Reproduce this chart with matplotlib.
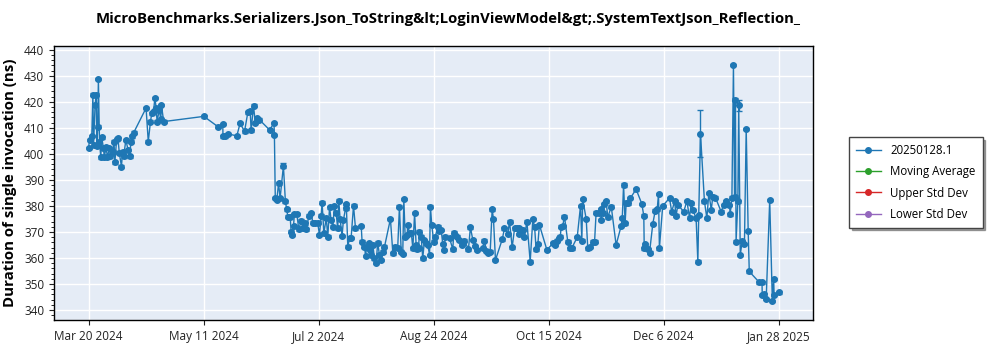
import numpy as np
import matplotlib
matplotlib.use("Agg")
import matplotlib.pyplot as plt
import matplotlib.dates as mdates
from matplotlib.lines import Line2D
from matplotlib.ticker import MultipleLocator

plt.rcParams["font.family"] = ["Open Sans", "DejaVu Sans"]

TITLE = "MicroBenchmarks.Serializers.Json_ToString&lt;LoginViewModel&gt;.SystemTextJson_Reflection_"
SERIES = "20250128.1"
START = np.datetime64("2024-03-20T00:00")

# days since the first run, and mean duration (ns)
days = [
    0.0, 0.5, 1.5, 2.0, 2.3, 3.0, 3.5, 3.8, 4.2, 4.5, 5.0, 5.6, 6.0, 6.8, 7.2, 8.0, 8.6, 9.5,
    10.0, 11.0, 11.6, 12.0, 12.8, 13.4, 14.0, 15.0, 15.5, 16.0, 17.0, 18.0, 18.8, 19.3, 20.0, 20.6,
    26.2, 27.2, 28.2, 28.8, 29.6, 30.2, 30.8, 31.2, 32.2, 32.9, 33.2, 34.2,
    52.5, 58.8, 61.1, 61.2, 61.9, 63.4, 67.5, 69.0, 71.0, 72.5, 73.6, 74.0, 75.1, 75.9, 76.6, 77.8,
    82.4, 84.4, 84.6, 85.0, 85.7, 86.5, 87.2, 88.7, 89.6, 90.2, 90.7, 91.8, 92.2, 92.7, 93.3, 93.7,
    94.8, 95.7, 96.8, 97.5, 98.3, 99.1, 100.3, 101.3, 102.1, 103.3, 104.3, 105.1, 105.9, 106.3,
    107.1, 108.2, 108.9, 109.7, 110.4, 111.2, 111.9, 112.7, 113.4, 113.9, 114.5, 115.4, 116.0,
    117.0, 117.3, 118.0, 118.8, 119.5, 120.6, 121.5, 124.1, 124.5, 125.6, 126.1, 126.6, 127.5,
    128.2, 128.6, 129.4, 130.1, 130.9, 131.6, 132.4, 133.2, 133.9, 134.7, 137.4, 138.5, 139.6,
    140.7, 141.5, 142.3, 143.0, 143.5, 144.1, 145.0, 145.3, 146.1, 146.9, 147.6, 148.4, 149.1,
    149.6, 150.2, 150.6, 151.4, 152.1, 152.9, 153.7, 154.4, 155.2, 155.6, 156.2, 157.1, 157.8,
    159.0, 159.7, 160.5, 161.2, 162.0, 162.3, 164.3, 165.8, 166.2, 166.9, 167.8, 168.8, 169.9,
    171.1, 172.9, 173.8, 174.9, 176.1, 176.7, 179.4, 180.2, 181.0, 181.7, 182.8, 183.7, 184.3,
    185.2, 188.3, 189.3, 190.8, 191.6, 192.8, 193.9, 194.9, 195.8, 196.1, 196.9, 197.6, 198.4,
    199.5, 201.0, 202.2, 203.0, 203.7, 204.5, 205.2, 208.6, 211.3, 212.5, 213.1, 214.0, 214.7,
    215.1, 215.8, 216.6, 218.1, 219.3, 219.9, 222.4, 223.9, 224.5, 224.9, 226.5, 227.2, 228.4,
    229.5, 230.3, 231.0, 232.1, 233.0, 233.3, 234.0, 234.8, 235.6, 236.3, 237.9, 240.1, 242.4,
    242.9, 243.5, 244.2, 244.7, 245.4, 246.6, 249.2, 251.8, 252.7, 252.9, 253.3, 254.5, 255.3,
    256.8, 257.9, 258.8, 259.4, 259.8, 261.3, 264.4, 265.4, 266.7, 267.4, 268.2, 270.9, 272.3,
    273.5, 274.3, 275.0, 276.5, 277.3, 277.7, 278.5, 280.3, 281.4, 282.3, 283.4, 284.1, 285.3,
    287.9, 289.0, 290.2, 291.7, 292.0, 292.8, 293.5, 294.0, 294.4, 294.7, 295.5, 295.9, 296.6,
    297.5, 298.5, 299.3, 300.2, 300.7, 305.3, 306.5, 306.6, 307.3, 308.4, 310.0, 311.2, 311.8,
    312.0, 314.0,
]
durations = [
    402.2, 405.4, 406.9, 422.7, 403.5, 418.8, 422.7, 403.1, 410.5, 428.7, 404.7, 398.7, 406.4,
    402.2, 398.7, 402.6, 398.7, 402.2, 399.0, 400.9, 404.7, 396.7, 405.6, 406.0, 400.5, 395.1,
    400.9, 399.0, 405.4, 401.5, 399.0, 404.7, 406.7, 408.2,
    417.6, 404.7, 412.4, 415.6, 416.3, 421.4, 417.6, 412.4, 416.9, 413.3, 418.8, 412.4,
    414.4, 410.5, 411.4, 406.7, 406.7, 407.7, 406.9, 411.8, 408.6, 415.9, 416.3, 409.0, 418.5,
    411.8, 413.7, 413.1,
    409.2, 411.8, 407.3, 383.0, 382.3, 388.7, 383.0, 395.4, 381.7, 378.7, 375.9, 375.6, 370.1,
    368.8, 372.3, 376.9, 376.9, 371.0, 374.3, 371.4, 373.3, 371.0, 376.2, 377.2, 373.6, 373.6,
    373.6, 368.8, 376.2, 381.3, 369.5, 375.3, 368.2, 379.5, 374.6, 372.0, 380.0, 377.2, 371.4,
    382.0, 374.9, 368.5, 374.6, 379.1, 380.8, 364.3, 367.6, 367.6, 380.1, 371.4, 372.3, 366.3,
    364.3, 360.8, 364.3, 365.6, 363.1, 361.2, 365.0, 359.9, 358.0, 365.9, 361.2, 359.2, 362.4,
    364.3, 375.0, 361.8, 364.3, 363.7, 379.7, 362.4, 361.5, 382.6, 368.0, 368.8, 372.7, 369.5,
    369.7, 363.7, 377.2, 365.0, 363.3, 363.7, 370.1, 368.2, 359.9, 366.9, 365.6, 365.0, 361.2,
    379.7, 372.7, 366.3, 368.2, 372.0, 370.5, 370.8, 365.4, 363.1, 368.2, 367.6, 363.3, 369.7,
    368.8, 368.2, 366.9, 365.0, 366.7, 363.3, 371.8, 366.9, 364.6, 363.1, 363.7, 366.7, 362.8,
    362.0, 362.4, 378.7, 374.9, 359.2, 367.2, 371.4, 369.2, 374.0, 364.1, 371.4, 371.4, 371.4,
    369.2, 370.8, 370.8, 368.0, 374.0, 358.6, 374.9, 372.0, 363.3, 365.4, 372.7, 363.1, 365.6,
    365.0, 366.7, 367.6, 368.2, 372.0, 372.3, 375.9, 366.3, 363.7, 363.7, 368.0, 380.0, 366.7,
    382.6, 374.9, 363.7, 364.3, 366.3, 366.3, 377.4, 377.4, 378.7, 374.6, 377.4, 380.8, 381.7,
    375.6, 379.7, 365.0, 372.3, 375.3, 388.1, 373.3, 381.3, 381.0, 383.0, 386.4, 380.8, 376.2,
    363.7, 365.4, 363.3, 362.0, 373.1, 378.2, 378.7, 384.6, 363.7, 380.0, 383.0, 377.8, 381.7,
    376.2, 380.4, 377.8, 381.9, 375.5, 381.0, 378.5, 375.3, 358.6, 376.5, 407.7, 381.7, 375.3,
    384.9, 378.5, 383.6, 383.2, 377.8, 380.4, 381.7, 380.4, 376.8, 383.2, 434.2, 383.6, 420.8,
    366.3, 381.7, 418.6, 361.2, 366.5, 365.3, 409.6, 370.4, 354.8, 350.6, 350.6, 345.8, 346.0,
    344.2, 382.2, 343.5, 351.9, 345.8, 346.8,
]
# std dev per run; runs not listed here are tight
wide_std = {88.7: 1.0, 243.5: 0.8, 278.5: 9.0, 295.9: 2.0}
base_std = 0.5

BLUE, GREEN, RED, PURPLE = "#1f77b4", "#2ca02c", "#d62728", "#9467bd"

when = START + (np.array(days) * 24 * 60).astype("timedelta64[m]")
when = when.astype("datetime64[ms]").astype(object)
yerr = [wide_std.get(d, base_std) for d in days]

fig = plt.figure(figsize=(10, 3.5), dpi=100)
ax = fig.add_axes([0.054, 0.086, 0.759, 0.783])
ax.set_facecolor("#e5ecf6")

ax.errorbar(when, durations, yerr=yerr, fmt="-o", color=BLUE, lw=1.0, ms=4,
            elinewidth=1.0, capsize=2.5, capthick=1.0, zorder=3)
# the band series carry no runs yet, but keep their legend entries
ax.plot([], [], "-o", color=GREEN, ms=4, lw=1)
ax.plot([], [], "-o", color=RED, ms=4, lw=1)
ax.plot([], [], "-o", color=PURPLE, ms=4, lw=1)

ax.set_ylim(336.2, 441.5)
ax.yaxis.set_major_locator(MultipleLocator(10))
ax.yaxis.set_minor_locator(MultipleLocator(2))

t0 = mdates.date2num(when[0])
t1 = mdates.date2num(when[-1])
ticks = np.linspace(t0, t1, 7)
ax.set_xticks(ticks)
ax.set_xticklabels([f"{d:%b} {d.day} {d:%Y}" for d in mdates.num2date(ticks)])
pad = (t1 - t0) * 0.05
ax.set_xlim(t0 - pad, t1 + pad)

ax.grid(True, color="white", lw=1.0)
ax.set_axisbelow(True)
for s in ax.spines.values():
    s.set_color("black")
    s.set_linewidth(1.0)
ax.tick_params(labelsize=8.5, colors="#222222", length=3.5)
ax.tick_params(which="minor", length=2)

ax.set_ylabel("Duration of single invocation (ns)", fontsize=10.8, fontweight="bold", labelpad=5)
fig.text(0.448, 0.947, TITLE, ha="center", va="center", fontsize=10.7, fontweight="bold")

handles = [Line2D([], [], color=c, marker="o", ms=4, lw=1) for c in (BLUE, GREEN, RED, PURPLE)]
leg = fig.legend(handles, [SERIES, "Moving Average", "Upper Std Dev", "Lower Std Dev"],
                 loc="center left", bbox_to_anchor=(0.843, 0.479), fontsize=8.3,
                 frameon=True, fancybox=False, shadow=True, edgecolor="#444444",
                 handlelength=2.2, borderpad=0.6, labelspacing=0.72)
leg.get_frame().set_linewidth(1.0)

fig.savefig("out.png", dpi=100)
